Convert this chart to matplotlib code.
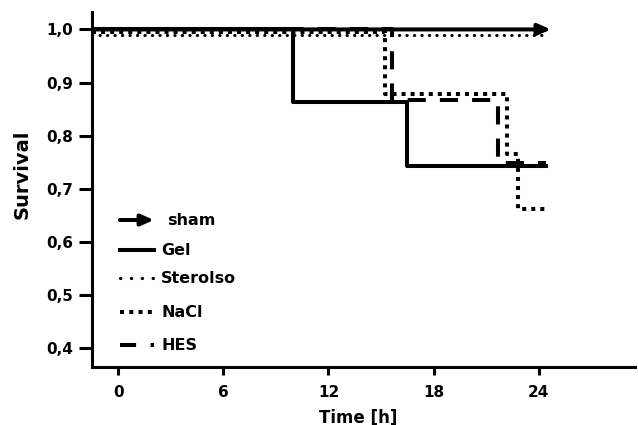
import matplotlib
matplotlib.use("Agg")
import matplotlib.pyplot as plt

plt.rcParams['font.family'] = ['DejaVu Sans']
plt.rcParams['font.weight'] = 'bold'

## survival data (step curves), time in hours
sham_t = [-1.5, 24.7]
sham_s = [1.0, 1.0]
gel_t = [-1.5, 10.0, 16.5, 24.4]
gel_s = [1.0, 0.863, 0.742, 0.742]
sterolso_t = [-1.5, 24.2]
sterolso_s = [0.99, 0.99]
nacl_t = [-1.5, 15.2, 22.2, 22.8, 24.4]
nacl_s = [0.995, 0.878, 0.765, 0.662, 0.662]
hes_t = [-1.5, 15.6, 21.7, 24.4]
hes_s = [1.0, 0.868, 0.748, 0.748]

labels = ["sham", "Gel", "Sterolso", "NaCl", "HES"]
x_ticks = [0, 6, 12, 18, 24]
y_ticks = [0.4, 0.5, 0.6, 0.7, 0.8, 0.9, 1.0]

LW = 2.9
styles = {
    "sham": dict(linestyle="-", lw=LW),
    "Gel": dict(linestyle="-", lw=LW),
    "Sterolso": dict(linestyle=(0, (0.1, 2.35)), lw=2.2, dash_capstyle="round"),
    "NaCl": dict(linestyle=(0, (1.0, 1.25)), lw=LW),
    "HES": dict(linestyle=(0, (4.5, 3.5)), lw=LW),
}
# legend samples use slightly different spacing
leg_styles = dict(styles)
leg_styles["Sterolso"] = dict(linestyle=(0, (0.1, 3.3)), lw=2.3, dash_capstyle="round")
leg_styles["NaCl"] = dict(linestyle=(0, (1.0, 1.3)), lw=LW)
leg_styles["HES"] = dict(linestyle=(0, (4.0, 3.6)), lw=LW)

ARROW = dict(arrowstyle="-|>,head_length=0.75,head_width=0.33",
             color="black", lw=LW, shrinkA=0, shrinkB=0, mutation_scale=10)

fig = plt.figure(figsize=(6.38, 4.25), dpi=100)
ax = fig.add_axes([0.1437, 0.137, 0.8516, 0.835])

ax.step(sterolso_t, sterolso_s, where="post", color="black", **styles["Sterolso"])
ax.step(nacl_t, nacl_s, where="post", color="black", **styles["NaCl"])
ax.step(hes_t, hes_s, where="post", color="black", **styles["HES"])
ax.step(gel_t, gel_s, where="post", color="black", **styles["Gel"])
ax.annotate("", xy=(sham_t[-1], sham_s[-1]), xytext=(sham_t[0], sham_s[0]),
            arrowprops=ARROW)

ax.set_xlim(-1.52, 29.5)
ax.set_ylim(0.365, 1.033)
ax.set_xticks(x_ticks)
ax.set_xticklabels([str(t) for t in x_ticks])
ax.set_yticks(y_ticks)
ax.set_yticklabels([f"{v:.1f}".replace(".", ",") for v in y_ticks])
ax.tick_params(width=2.2, labelsize=11)
ax.tick_params(axis="x", length=6, pad=7)
ax.tick_params(axis="y", length=9.5, pad=4)
for s in ["top", "right"]:
    ax.spines[s].set_visible(False)
for s in ["left", "bottom"]:
    ax.spines[s].set_linewidth(2.2)

ax.set_xlabel("Time [h]", fontsize=12, fontweight="bold")
ax.xaxis.set_label_coords(0.49, -0.117)
ax.set_ylabel("Survival", fontsize=14, fontweight="bold")
ax.yaxis.set_label_coords(-0.11, 0.542)

# hand-made legend (pixel positions -> axes fraction)
def fx(px):
    return (px - 91.7) / 543.3

def fy(py):
    return (366.7 - py) / 354.7

leg_y = [220, 250, 278, 312, 345]
leg_tx = [167, 161, 161, 162, 162]
for name, py, tx in zip(labels, leg_y, leg_tx):
    if name == "sham":
        ax.annotate("", xy=(fx(154), fy(py)), xytext=(fx(120), fy(py)),
                    xycoords="axes fraction", textcoords="axes fraction",
                    arrowprops=ARROW)
    else:
        ax.plot([fx(120), fx(154)], [fy(py), fy(py)], transform=ax.transAxes,
                color="black", **leg_styles[name])
    ax.text(fx(tx), fy(py), name, transform=ax.transAxes,
            fontsize=11.5, fontweight="bold", va="center", ha="left")

fig.savefig("out.png", dpi=100)
